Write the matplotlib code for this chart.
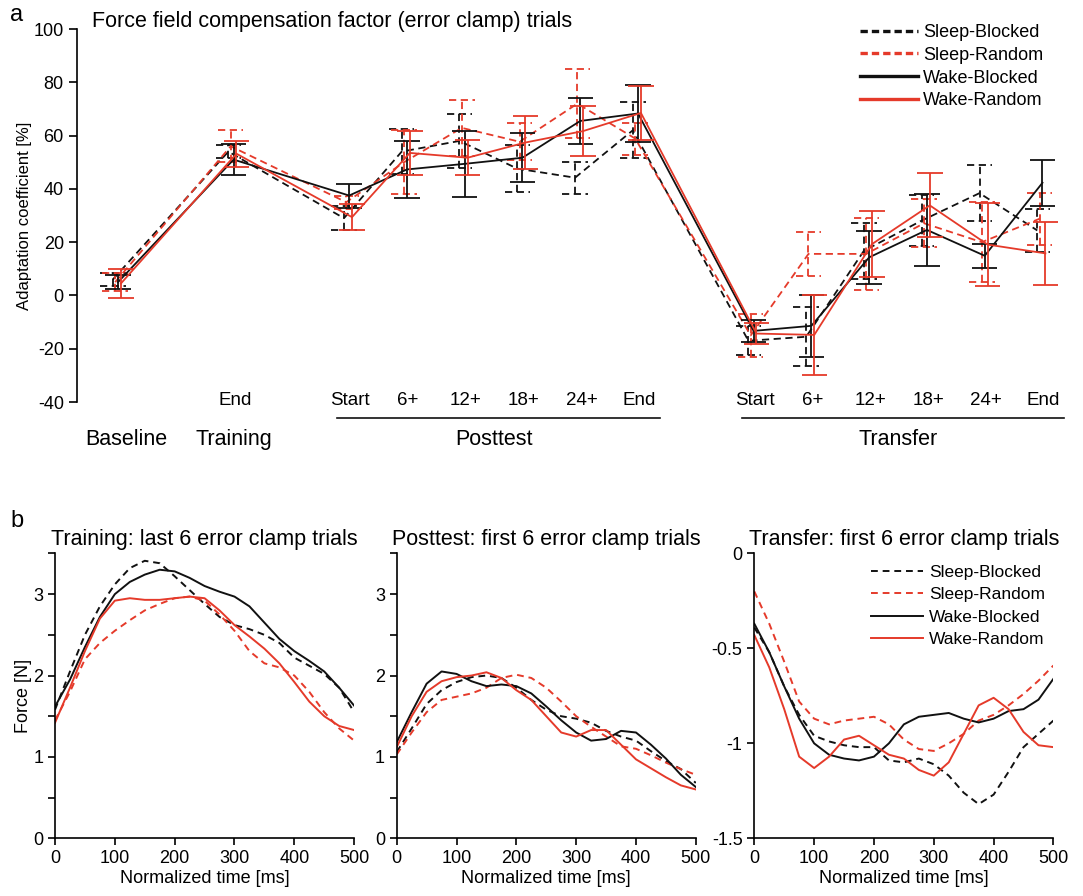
import matplotlib
matplotlib.use('Agg')
import matplotlib.pyplot as plt
from matplotlib.lines import Line2D

plt.rcParams['font.family'] = ['Liberation Sans', 'DejaVu Sans']
plt.rcParams['axes.unicode_minus'] = False

RED = '#e53a2a'
BLACK = '#111111'

# ---- panel a: adaptation coefficient per block ----
groups = ['Sleep-Blocked', 'Sleep-Random', 'Wake-Blocked', 'Wake-Random']
positions = [0, 2, 4, 5, 6, 7, 8, 9, 11, 12, 13, 14, 15, 16]
block_labels = ['', 'End', 'Start', '6+', '12+', '18+', '24+', 'End',
                'Start', '6+', '12+', '18+', '24+', 'End']

sb_mean = [6, 54, 29, 54, 58, 47.6, 44.2, 62, -17, -15.5, 16.8, 28.1, 38.4, 24.4]
sb_err = [2.5, 2.5, 4.5, 8.5, 10, 8.7, 6, 10.5, 5.5, 11, 10.5, 9.7, 10.5, 8]
sr_mean = [5, 56, 35, 50, 62.9, 57.7, 72, 58.9, -15, 15.6, 15.6, 27.1, 20, 28.8]
sr_err = [3.5, 6, 2.5, 12, 10.4, 7, 13, 6, 8, 8.4, 13.5, 9, 15, 9.7]
wb_mean = [5, 51, 37.5, 47.3, 49.4, 51.7, 65.5, 68.3, -13.3, -11.4, 14.3, 24.6, 14.9, 42.3]
wb_err = [2.5, 5.7, 4.5, 10.7, 12.4, 9.3, 8.7, 10.8, 4, 11.6, 10, 13.5, 4.5, 8.6]
wr_mean = [4.5, 53.2, 29.4, 53.5, 51.7, 57.4, 61.7, 68.5, -14.3, -14.8, 19.3, 33.8, 19.1, 15.8]
wr_err = [5.5, 4.8, 5, 8.2, 6.6, 10, 9.5, 10, 4, 15, 12.3, 12, 15.5, 11.7]

# ---- panel b: force profiles ----
t = [0, 25, 50, 75, 100, 125, 150, 175, 200, 225, 250, 275, 300, 325, 350,
     375, 400, 425, 450, 475, 500]

train_sb = [1.58, 2.05, 2.5, 2.85, 3.12, 3.32, 3.41, 3.38, 3.22, 3.05, 2.88,
            2.72, 2.62, 2.57, 2.5, 2.4, 2.22, 2.12, 2.02, 1.85, 1.55]
train_sr = [1.45, 1.8, 2.2, 2.4, 2.55, 2.68, 2.8, 2.88, 2.95, 2.97, 2.92,
            2.75, 2.55, 2.3, 2.15, 2.1, 2.0, 1.8, 1.55, 1.35, 1.2]
train_wb = [1.62, 1.95, 2.35, 2.72, 3.0, 3.15, 3.24, 3.3, 3.28, 3.2, 3.1,
            3.03, 2.97, 2.85, 2.65, 2.45, 2.3, 2.18, 2.05, 1.85, 1.63]
train_wr = [1.42, 1.85, 2.3, 2.7, 2.92, 2.95, 2.93, 2.93, 2.95, 2.97, 2.95,
            2.8, 2.62, 2.48, 2.33, 2.15, 1.92, 1.68, 1.5, 1.38, 1.33]

post_sb = [1.06, 1.35, 1.65, 1.82, 1.92, 1.98, 2.0, 1.97, 1.85, 1.7, 1.58,
           1.5, 1.47, 1.42, 1.32, 1.25, 1.2, 1.07, 0.95, 0.85, 0.68]
post_sr = [1.03, 1.3, 1.55, 1.7, 1.74, 1.78, 1.85, 1.97, 2.01, 1.97, 1.85,
           1.68, 1.5, 1.37, 1.25, 1.13, 1.1, 1.02, 0.93, 0.85, 0.78]
post_wb = [1.18, 1.55, 1.9, 2.05, 2.02, 1.93, 1.87, 1.89, 1.87, 1.78, 1.62,
           1.45, 1.3, 1.2, 1.22, 1.32, 1.3, 1.15, 0.98, 0.78, 0.63]
post_wr = [1.12, 1.5, 1.8, 1.93, 1.98, 2.0, 2.04, 1.97, 1.82, 1.7, 1.5,
           1.3, 1.25, 1.33, 1.33, 1.15, 0.97, 0.86, 0.75, 0.65, 0.6]

trans_sb = [-0.39, -0.52, -0.7, -0.85, -0.96, -0.99, -1.01, -1.02, -1.02, -1.09,
            -1.1, -1.08, -1.11, -1.17, -1.26, -1.32, -1.27, -1.15, -1.02, -0.95, -0.88]
trans_sr = [-0.2, -0.37, -0.57, -0.78, -0.87, -0.9, -0.88, -0.87, -0.86, -0.9,
            -0.98, -1.03, -1.04, -1.0, -0.95, -0.88, -0.85, -0.8, -0.74, -0.67, -0.59]
trans_wb = [-0.37, -0.52, -0.7, -0.87, -1.0, -1.06, -1.08, -1.09, -1.07, -1.0,
            -0.9, -0.86, -0.85, -0.84, -0.87, -0.89, -0.87, -0.83, -0.82, -0.77, -0.66]
trans_wr = [-0.43, -0.6, -0.82, -1.07, -1.13, -1.07, -0.98, -0.96, -1.01, -1.06,
            -1.08, -1.14, -1.17, -1.1, -0.95, -0.8, -0.76, -0.82, -0.94, -1.01, -1.02]

styles = {
    'Sleep-Blocked': (BLACK, (0, (4, 2.5))),
    'Sleep-Random': (RED, (0, (4, 2.5))),
    'Wake-Blocked': (BLACK, '-'),
    'Wake-Random': (RED, '-'),
}
offsets = {'Sleep-Blocked': -0.09, 'Sleep-Random': -0.05,
           'Wake-Blocked': 0.0, 'Wake-Random': 0.05}

fig = plt.figure(figsize=(10.83, 8.96), dpi=100)

# ---------------- panel a ----------------
ax = fig.add_axes([0.0711, 0.5513, 0.9123, 0.4163])
series = {'Sleep-Blocked': (sb_mean, sb_err), 'Sleep-Random': (sr_mean, sr_err),
          'Wake-Blocked': (wb_mean, wb_err), 'Wake-Random': (wr_mean, wr_err)}
for name in groups:
    color, ls = styles[name]
    mean, err = series[name]
    xs = [p + offsets[name] for p in positions]
    ax.plot(xs, mean, color=color, linestyle=ls, lw=1.3)
    lo = [m - e for m, e in zip(mean, err)]
    hi = [m + e for m, e in zip(mean, err)]
    ax.vlines(xs, lo, hi, color=color, linestyle=ls, lw=1.3)
    cap = 0.22
    ax.hlines(lo, [x - cap for x in xs], [x + cap for x in xs], color=color, linestyle=ls, lw=1.3)
    ax.hlines(hi, [x - cap for x in xs], [x + cap for x in xs], color=color, linestyle=ls, lw=1.3)

ax.set_xlim(-0.71, 16.39)
ax.set_ylim(-40, 100)
ax.set_yticks([-40, -20, 0, 20, 40, 60, 80, 100])
ax.set_xticks([])
for s in ['top', 'right', 'bottom']:
    ax.spines[s].set_visible(False)
ax.spines['left'].set_linewidth(1.2)
ax.tick_params(axis='y', labelsize=13, direction='out', length=6, width=1.2)
ax.set_ylabel('Adaptation coefficient [%]', fontsize=12, labelpad=1)

for p, lab in zip(positions, block_labels):
    if lab:
        ax.text(p + 0.02, -39.6, lab, ha='center', va='center', fontsize=13.5, clip_on=False)
ax.plot([3.79, 9.38], [-46, -46], color=BLACK, lw=1.2, clip_on=False)
ax.plot([10.8, 16.38], [-46, -46], color=BLACK, lw=1.2, clip_on=False)
for x, lab in [(0.15, 'Baseline'), (2.0, 'Training'), (6.5, 'Posttest'), (13.5, 'Transfer')]:
    ax.text(x, -53.9, lab, ha='center', va='center', fontsize=15.5, clip_on=False)

fig.text(92 / 1083, 1 - 21 / 896, 'Force field compensation factor (error clamp) trials',
         ha='left', va='center', fontsize=15.5)
fig.text(10 / 1083, 1 - 15 / 896, 'a', ha='left', va='center', fontsize=17)
fig.text(10 / 1083, 1 - 521 / 896, 'b', ha='left', va='center', fontsize=17)

handles = [Line2D([], [], color=styles[n][0], lw=2.4) for n in groups]
for h, n in zip(handles, groups):
    if 'Sleep' in n:
        h.set_linestyle((0, (2.2, 1.2)))
fig.legend(handles, groups, loc='upper left', bbox_to_anchor=(860 / 1083, 1 - 24 / 896),
           frameon=False, fontsize=13, handlelength=3.2, handletextpad=0.3,
           labelspacing=0.32, borderpad=0, borderaxespad=0)

# ---------------- panel b ----------------
panels = [
    ('Training: last 6 error clamp trials', [train_sb, train_sr, train_wb, train_wr], 0.0508, (0, 3.5)),
    ('Posttest: first 6 error clamp trials', [post_sb, post_sr, post_wb, post_wr], 0.3663, (0, 3.5)),
    ('Transfer: first 6 error clamp trials', [trans_sb, trans_sr, trans_wb, trans_wr], 0.6965, (-1.5, 0)),
]
for i, (title, curves, left, ylim) in enumerate(panels):
    bx = fig.add_axes([left, 0.0644, 0.2762, 0.3179])
    for name, y in zip(groups, curves):
        color, ls = styles[name]
        if ls != '-':
            ls = (0, (3.5, 2.5))
        bx.plot(t, y, color=color, linestyle=ls, lw=1.4, label=name)
    bx.set_xlim(0, 500)
    bx.set_ylim(*ylim)
    bx.set_xticks([0, 100, 200, 300, 400, 500])
    if i < 2:
        bx.set_yticks([0, 0.5, 1, 1.5, 2, 2.5, 3, 3.5])
        bx.set_yticklabels(['0', '', '1', '', '2', '', '3', ''])
    else:
        bx.set_yticks([-1.5, -1, -0.5, 0])
        bx.set_yticklabels(['-1.5', '-1', '-0.5', '0'])
    for s in ['top', 'right']:
        bx.spines[s].set_visible(False)
    for s in ['left', 'bottom']:
        bx.spines[s].set_linewidth(1.2)
    bx.tick_params(labelsize=13, direction='out', length=5, width=1.2)
    bx.set_xlabel('Normalized time [ms]', fontsize=13, labelpad=2)
    bx.set_title(title, fontsize=15.5, pad=6)
    if i == 0:
        bx.set_ylabel('Force [N]', fontsize=13, labelpad=1)
    if i == 2:
        bx.legend(loc='upper left', bbox_to_anchor=(0.39, 0.96), frameon=False,
                  fontsize=12.5, handlelength=3.0, handletextpad=0.35,
                  labelspacing=0.42, borderpad=0, borderaxespad=0)

fig.savefig('out.png', dpi=100)
